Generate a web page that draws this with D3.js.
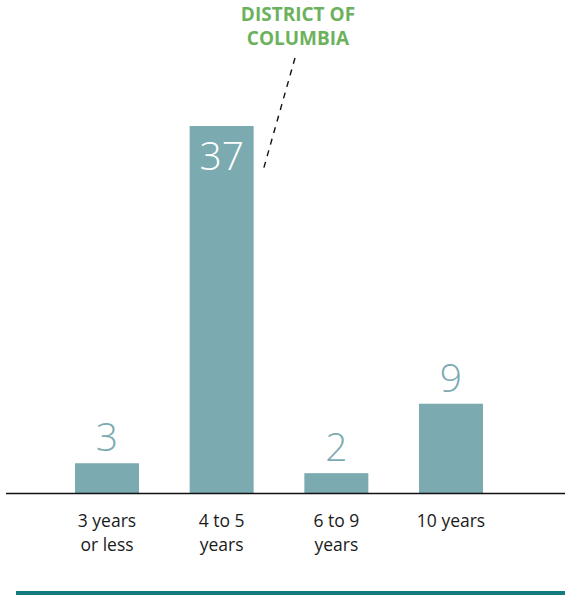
<!DOCTYPE html>
<html><head><meta charset="utf-8">
<script src="https://cdn.jsdelivr.net/npm/d3@7"></script>
<style>html,body{margin:0;padding:0;background:#fff;}svg{display:block;}</style>
</head><body>
<svg id="c" width="565" height="595"></svg>
<script>
const categories = ["3 years|or less", "4 to 5|years", "6 to 9|years", "10 years"];
const values = [3, 37, 2, 9];
const annotation = ["DISTRICT OF", "COLUMBIA"];

const svg = d3.select("#c");
const baseY = 493, topY = 126;
const x = d3.scaleBand().domain(categories).range([75, 483]).paddingInner(0.442).paddingOuter(0);
const y = d3.scaleLinear().domain([0, 37]).range([baseY, topY]);
const barColor = "#7baab0";

svg.selectAll("rect.bar").data(values).join("rect")
  .attr("class","bar")
  .attr("x", (d,i) => x(categories[i]))
  .attr("width", x.bandwidth())
  .attr("y", d => y(d))
  .attr("height", d => baseY - y(d))
  .attr("fill", barColor);

// value labels
svg.selectAll("text.val").data(values).join("text")
  .attr("class","val")
  .attr("x", (d,i) => x(categories[i]) + x.bandwidth()/2)
  .attr("y", d => d > 20 ? y(d) + 44 : y(d) - 12)
  .attr("text-anchor","middle")
  .attr("font-family","'Open Sans', sans-serif")
  .attr("font-weight", 300)
  .attr("font-size", 39)
  .attr("fill", d => d > 20 ? "#ffffff" : barColor)
  .text(d => d);

// axis
const axis = d3.axisBottom(x).tickSize(0).tickFormat(() => "");
const ag = svg.append("g").attr("transform", `translate(0,${baseY})`).call(axis);
ag.select(".domain").remove();
svg.append("line").attr("x1",6).attr("x2",565).attr("y1",baseY+0.5).attr("y2",baseY+0.5)
  .attr("stroke","#111").attr("stroke-width",1.5);

ag.selectAll(".tick").each(function(d){
  const t = d3.select(this).append("text")
    .attr("text-anchor","middle")
    .attr("font-family","'Open Sans', sans-serif")
    .attr("font-size",17.5)
    .attr("fill","#1a1a1a");
  d.split("|").forEach((line,j) => {
    t.append("tspan").attr("x",0).attr("y", 34 + j*24).text(line);
  });
});

// annotation
const ann = svg.append("text").attr("text-anchor","middle")
  .attr("font-family","'Open Sans', sans-serif").attr("font-weight",700)
  .attr("font-size",19).attr("fill","#6cb25e");
annotation.forEach((line,j) => ann.append("tspan").attr("x",298).attr("y",21 + j*24).text(line));

const bx = x(categories[1]) + x.bandwidth();
svg.append("line").attr("x1",295).attr("y1",58).attr("x2",bx+9).attr("y2",172)
  .attr("stroke","#111").attr("stroke-width",1.4).attr("stroke-dasharray","6,6");

// bottom rule
svg.append("rect").attr("x",16).attr("y",591).attr("width",549).attr("height",4).attr("fill","#137a80");
</script>
</body></html>
